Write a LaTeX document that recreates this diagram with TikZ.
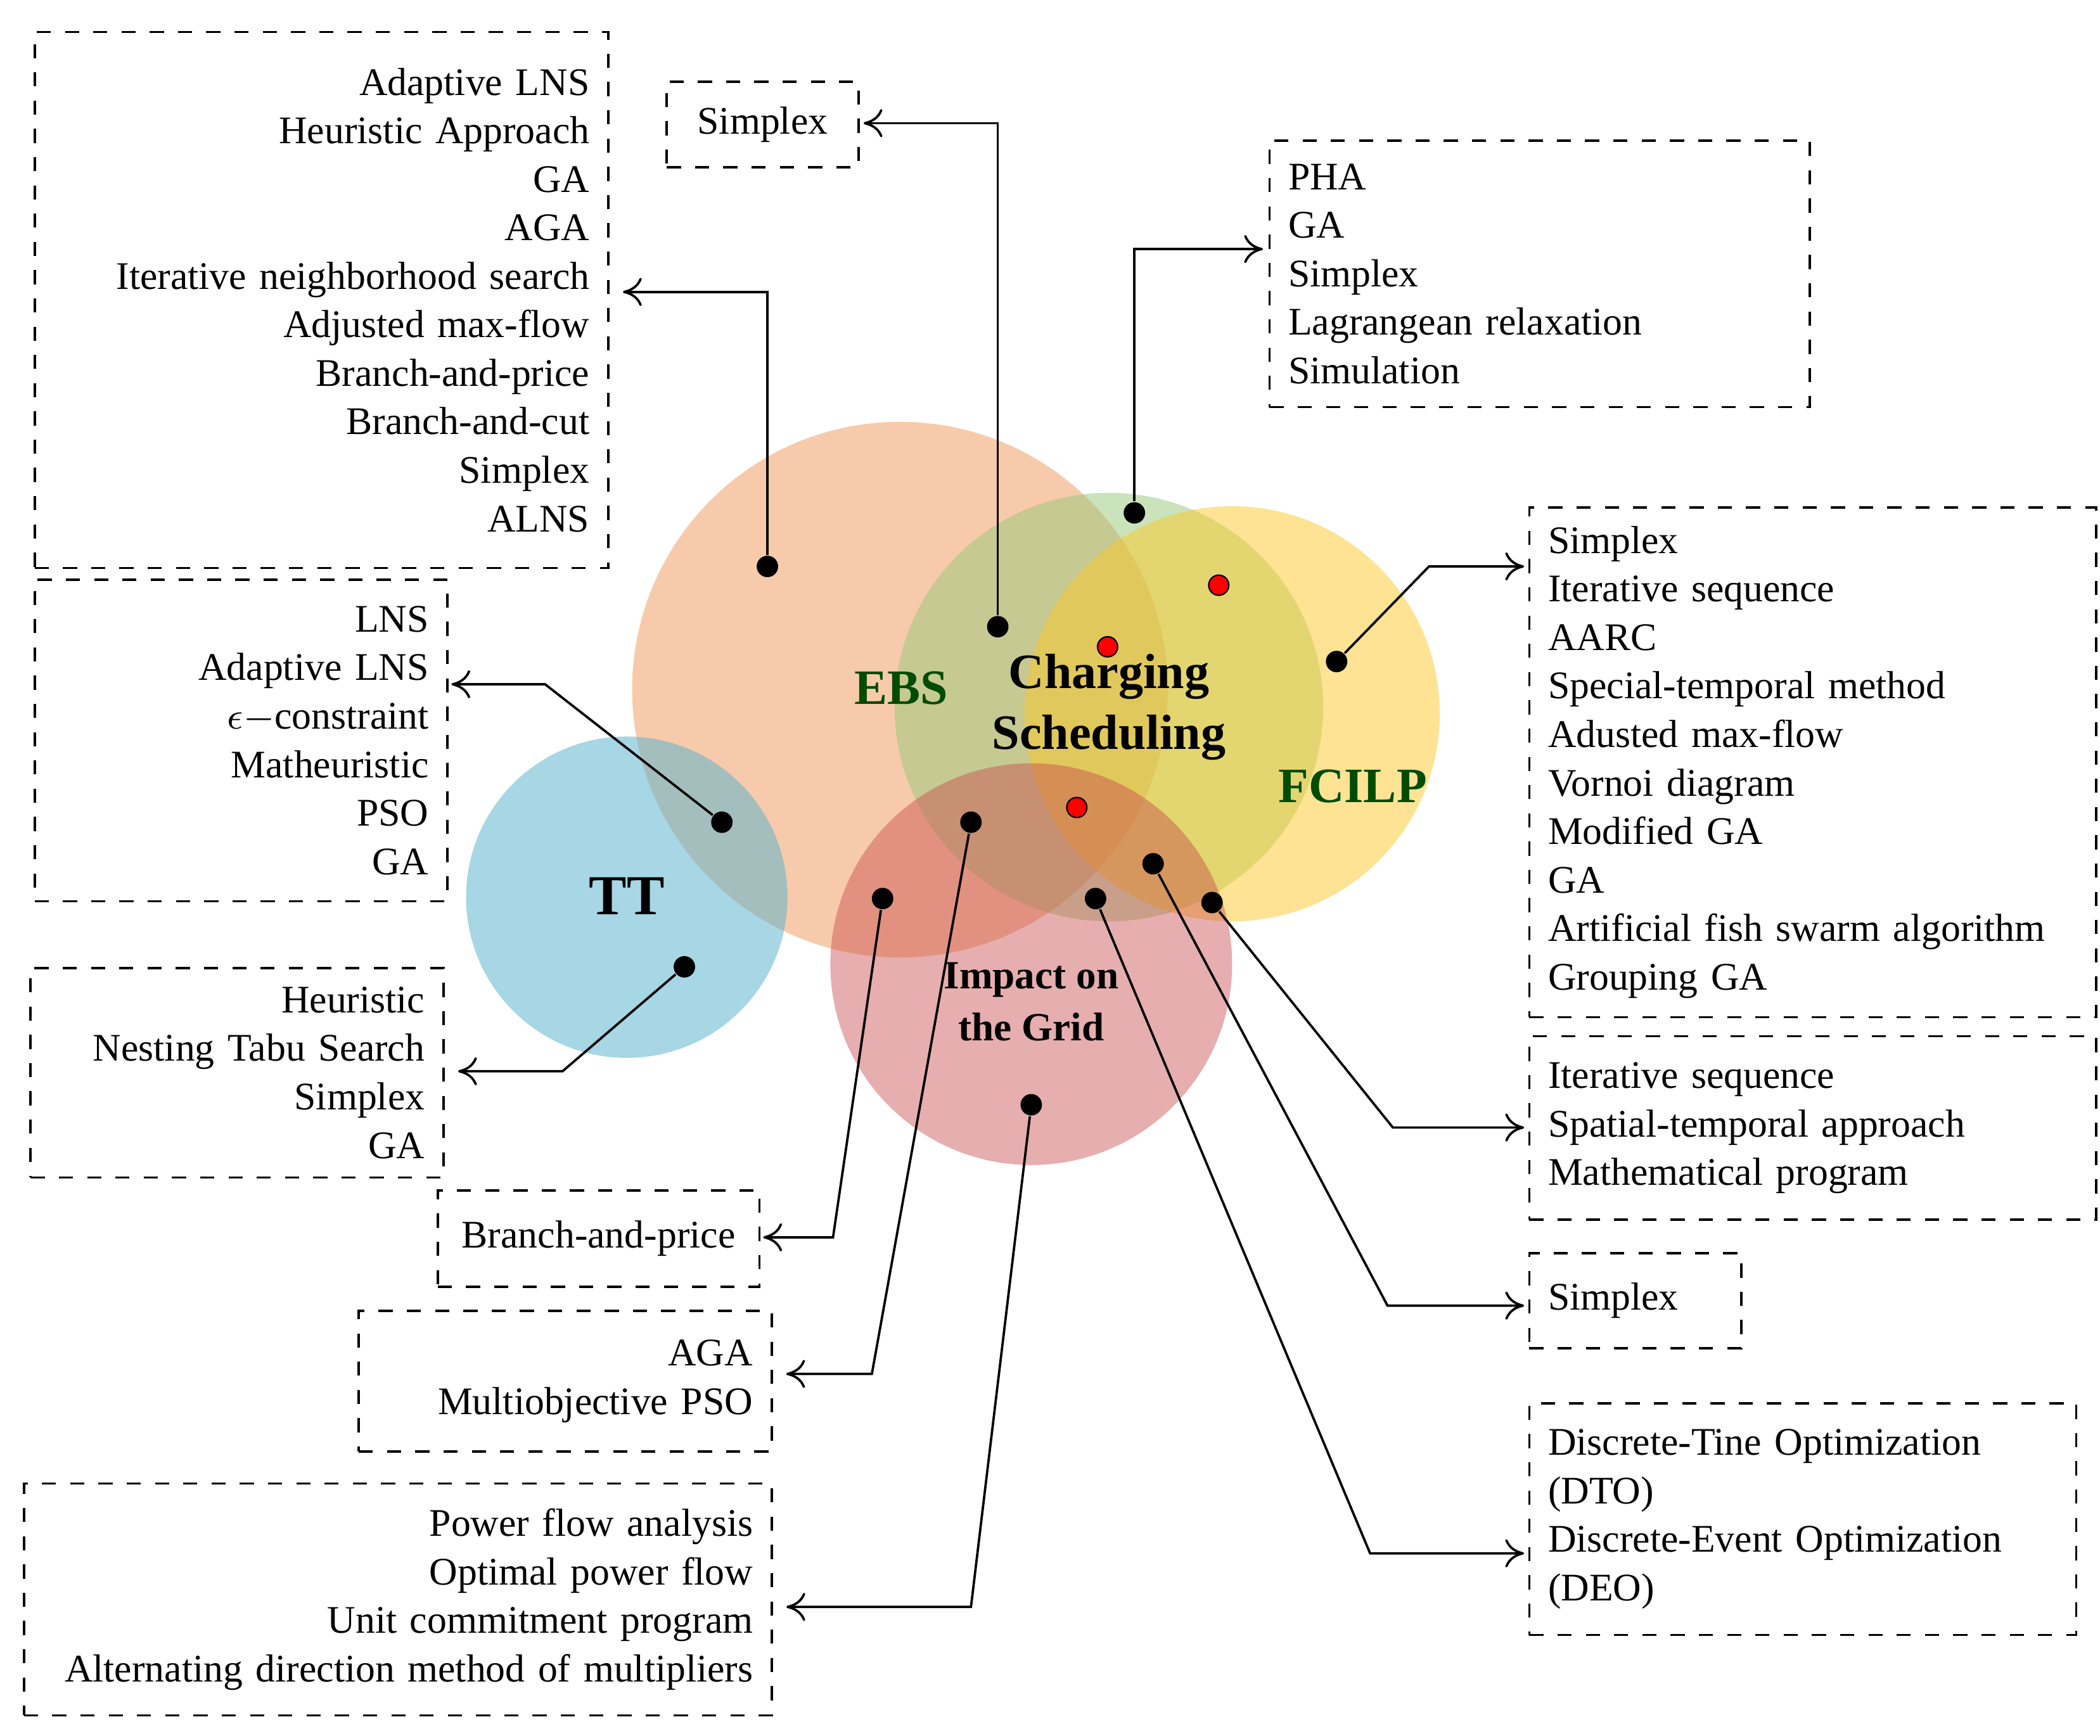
\documentclass[tikz,border=0pt]{standalone}
\usepackage{fontspec}
\setmainfont{Liberation Serif}
\usetikzlibrary{arrows.meta}
\definecolor{cEBS}{RGB}{242,150,90}
\definecolor{cTT}{RGB}{95,180,205}
\definecolor{cCS}{RGB}{150,200,120}
\definecolor{cFC}{RGB}{252,200,40}
\definecolor{cGR}{RGB}{200,75,75}
\begin{document}
\begin{tikzpicture}[x=0.01cm,y=-0.01cm,
  box/.style={draw,dashed,line width=0.5pt,inner sep=4pt,font=\fontsize{8.3}{10.3}\selectfont,anchor=north west},
  dot/.style={circle,fill=black,inner sep=0pt,minimum size=0.16cm},
  rdot/.style={circle,fill=red,draw=black,line width=0.3pt,inner sep=0pt,minimum size=0.15cm},
  arr/.style={-{To[length=4pt,width=6pt]},line width=0.5pt},
  lab/.style={font=\bfseries\fontsize{10.5}{12}\selectfont,align=center}]
\useasboundingbox (0,0) rectangle (1568,1296);
% circles
\fill[cEBS,fill opacity=0.5] (672,515) circle (200);
\fill[cTT,fill opacity=0.55] (468,670) circle (120);
\fill[cCS,fill opacity=0.5] (828,528) circle (160);
\fill[cFC,fill opacity=0.5] (920,533) circle (155);
\fill[cGR,fill opacity=0.45] (770,720) circle (150);
\node[lab,text=black!70!green] (lEBS) at (673,514) {EBS};
\node[lab,align=center] (lCS) at (828,528) {Charging\\[1pt]Scheduling};
\node[lab,text=black!70!green] (lFC) at (1010,587) {FCILP};
\node[lab,font=\bfseries\fontsize{12}{14}\selectfont] (lTT) at (468,669) {TT};
\node[lab,font=\bfseries\fontsize{8.5}{11}\selectfont] (lGR) at (770,748) {Impact on\\the Grid};
% boxes
\node[box,minimum width=4.25cm,minimum height=4.0cm,text width=4.0cm,align=right] (b1) at (25,23)
 {Adaptive LNS\\Heuristic Approach\\GA\\AGA\\Iterative neighborhood search\\Adjusted max-flow\\Branch-and-price\\Branch-and-cut\\Simplex\\ALNS};
\node[box,minimum width=1.43cm,minimum height=0.64cm] (b2) at (497,60) {Simplex};
\node[box,minimum width=3.99cm,minimum height=1.99cm,text width=3.75cm,align=left] (b3) at (947,104)
 {PHA\\GA\\Simplex\\Lagrangean relaxation\\Simulation};
\node[box,minimum width=3.01cm,minimum height=2.4cm,text width=2.8cm,align=right] (b4) at (25,432)
 {LNS\\Adaptive LNS\\$\epsilon-$constraint\\Matheuristic\\PSO\\GA};
\node[box,minimum width=4.13cm,minimum height=3.77cm,text width=3.95cm,align=left] (b5) at (1141,378)
 {Simplex\\Iterative sequence\\AARC\\Special-temporal method\\Adusted max-flow\\Vornoi diagram\\Modified GA\\GA\\Artificial fish swarm algorithm\\Grouping GA};
\node[box,minimum width=3.0cm,minimum height=1.56cm,text width=2.8cm,align=right] (b6) at (22,722)
 {Heuristic\\Nesting Tabu Search\\Simplex\\GA};
\node[box,minimum width=4.13cm,minimum height=1.37cm,text width=3.95cm,align=left] (b7) at (1141,773)
 {Iterative sequence\\Spatial-temporal approach\\Mathematical program};
\node[box,minimum width=2.4cm,minimum height=0.72cm] (b8) at (326,888) {Branch-and-price};
\node[box,minimum width=1.48cm,minimum height=0.71cm,text width=1.3cm,align=left] (b9) at (1141,935) {Simplex};
\node[box,minimum width=3.0cm,minimum height=1.05cm,text width=2.8cm,align=right] (b10) at (267,978)
 {AGA\\Multiobjective PSO};
\node[box,minimum width=3.99cm,minimum height=1.73cm,text width=3.8cm,align=left] (b11) at (1141,1047)
 {Discrete-Tine Optimization\\(DTO)\\Discrete-Event Optimization\\(DEO)};
\node[box,minimum width=5.5cm,minimum height=1.73cm,text width=5.3cm,align=right] (b12) at (17,1107)
 {Power flow analysis\\Optimal power flow\\Unit commitment program\\Alternating direction method of multipliers};
% dots
\node[dot] (d1) at (573,423) {};
\node[dot] (d2) at (745,468) {};
\node[dot] (d3) at (847,383) {};
\node[dot] (d4) at (998,494) {};
\node[dot] (d5) at (539,614) {};
\node[dot] (d6) at (511,722) {};
\node[dot] (d7) at (659,671) {};
\node[dot] (d8) at (725,614) {};
\node[dot] (d9) at (770,825) {};
\node[dot] (d10) at (905,674) {};
\node[dot] (d11) at (861,645) {};
\node[dot] (d12) at (818,671) {};
\node[rdot] (r1) at (910,437) {};
\node[rdot] (r2) at (827,483) {};
\node[rdot] (r3) at (804,603) {};
% connectors
\draw[arr] (d1) |- ([xshift=0.1cm]b1.east |- 0,218);
\draw[arr] (d2) |- ([xshift=0.03cm]b2.east |- 0,92);
\draw[arr] (d3) |- ([xshift=-0.04cm]b3.west |- 0,186);
\draw[arr] (d4) -- (1067,423) -- ([xshift=-0.03cm]b5.west |- 0,423);
\draw[arr] (d5) -- (407,511) -- ([xshift=0.02cm]b4.east |- 0,511);
\draw[arr] (d6) -- (420,800) -- ([xshift=0.1cm]b6.east |- 0,800);
\draw[arr] (d7) -- (622,924) -- ([xshift=0.02cm]b8.east |- 0,924);
\draw[arr] (d8) -- (651,1026) -- ([xshift=0.1cm]b10.east |- 0,1026);
\draw[arr] (d9) -- (725,1200) -- ([xshift=0.1cm]b12.east |- 0,1200);
\draw[arr] (d10) -- (1040,842) -- ([xshift=-0.03cm]b7.west |- 0,842);
\draw[arr] (d11) -- (1036,975) -- ([xshift=-0.03cm]b9.west |- 0,975);
\draw[arr] (d12) -- (1023,1160) -- ([xshift=-0.03cm]b11.west |- 0,1160);
\end{tikzpicture}
\end{document}
